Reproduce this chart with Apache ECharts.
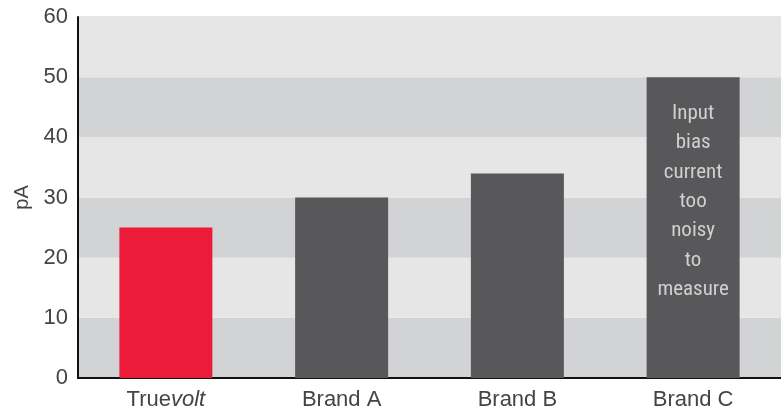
<!DOCTYPE html>
<html>
<head>
<meta charset="utf-8">
<script src="https://cdn.jsdelivr.net/npm/echarts@6/dist/echarts.min.js"></script>
<style>html,body{margin:0;padding:0;background:#fff;}#c{width:781px;height:412px;}</style>
</head>
<body>
<div id="c"></div>
<script>
var categories = ['Truevolt', 'Brand A', 'Brand B', 'Brand C'];
var values = [25, 30, 34, 50];
var barColors = ['#ec1b39', '#58585a', '#58585a', '#58585a'];
var yTicks = [0, 10, 20, 30, 40, 50, 60];
var noteText = 'Input\nbias\ncurrent\ntoo\nnoisy\nto\nmeasure';

var chart = echarts.init(document.getElementById('c'), null, {renderer: 'canvas'});
var font = 'Arial, "Liberation Sans", Helvetica, sans-serif';
chart.setOption({
  animation: false,
  grid: {left: 78, right: 0, top: 17, bottom: 34, show: true, borderColor: '#c9c9c9', borderWidth: 1, backgroundColor: 'transparent'},
  xAxis: {
    type: 'category',
    data: categories,
    axisLine: {lineStyle: {color: '#111', width: 2}},
    axisTick: {show: false},
    axisLabel: {
      color: '#444', fontSize: 22, fontFamily: font, margin: 11,
      formatter: function (v) { return v === 'Truevolt' ? 'True{i|volt}' : v; },
      rich: {i: {fontStyle: 'italic', fontSize: 22, fontFamily: font, color: '#444'}}
    }
  },
  yAxis: {
    type: 'value',
    min: yTicks[0], max: yTicks[yTicks.length - 1], interval: 10,
    name: 'pA',
    nameLocation: 'middle',
    nameGap: 45,
    nameRotate: 90,
    nameTextStyle: {color: '#444', fontSize: 20, fontFamily: font},
    axisLine: {show: true, lineStyle: {color: '#111', width: 2}},
    axisTick: {show: false},
    axisLabel: {color: '#444', fontSize: 22, fontFamily: font, margin: 10},
    splitLine: {show: false},
    splitArea: {show: true, areaStyle: {color: ['#d2d3d5', '#e6e6e6']}}
  },
  series: [{
    type: 'bar',
    barWidth: 93,
    data: values.map(function (v, i) {
      var d = {value: v, itemStyle: {color: barColors[i]}};
      if (i === 3) {
        d.label = {
          show: true, position: 'insideTop', distance: 22,
          formatter: noteText,
          color: '#d0d0d0', fontSize: 21, lineHeight: 29.3,
          fontFamily: '"Liberation Sans Narrow", "Arial Narrow", "Roboto Condensed", Arial, sans-serif',
          align: 'center'
        };
      }
      return d;
    })
  }]
});
</script>
</body>
</html>
